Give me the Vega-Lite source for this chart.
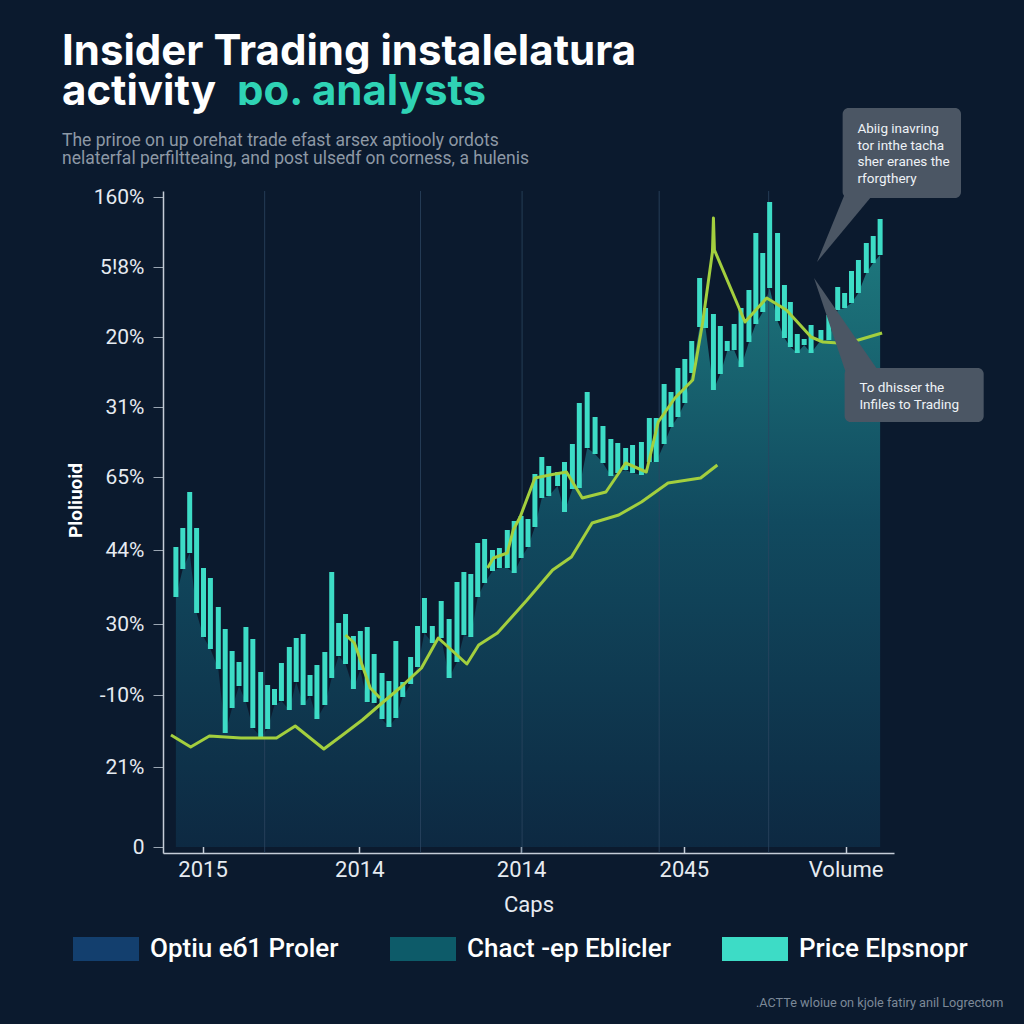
{
  "$schema": "https://vega.github.io/schema/vega-lite/v6.json",
  "width": 731,
  "height": 662,
  "autosize": {"type": "none"},
  "padding": {"left": 163, "top": 191, "right": 130, "bottom": 171},
  "background": "#0b1a2e",
  "config": {"view": {"stroke": null}, "font": "Roboto"},
  "title": {
    "text": ["Insider Trading instalelatura", "activity"],
    "subtitle": ["The priroe on up orehat trade efast arsex aptiooly ordots", "nelaterfal perfiltteaing, and post ulsedf on corness, a hulenis"],
    "anchor": "start",
    "frame": "group",
    "dx": -101,
    "offset": -97,
    "font": "Inter",
    "fontSize": 42,
    "fontWeight": 700,
    "color": "#ffffff",
    "lineHeight": 40,
    "subtitleFont": "Roboto",
    "subtitleFontSize": 17.5,
    "subtitleColor": "#8d98a5",
    "subtitleLineHeight": 18,
    "subtitlePadding": 18
  },
  "datasets": {
    "bars": [
      {"u": 8, "hi": 300, "lo": 250}, {"u": 15, "hi": 319, "lo": 278}, {"u": 22, "hi": 355, "lo": 294},
      {"u": 29, "hi": 319, "lo": 234}, {"u": 36, "hi": 279, "lo": 210}, {"u": 43, "hi": 269, "lo": 198},
      {"u": 51, "hi": 240, "lo": 178}, {"u": 58, "hi": 218, "lo": 114}, {"u": 65, "hi": 196, "lo": 139},
      {"u": 72, "hi": 185, "lo": 161}, {"u": 79, "hi": 220, "lo": 145}, {"u": 86, "hi": 208, "lo": 119},
      {"u": 94, "hi": 175, "lo": 110}, {"u": 101, "hi": 162, "lo": 118}, {"u": 108, "hi": 158, "lo": 142},
      {"u": 115, "hi": 184, "lo": 146}, {"u": 123, "hi": 200, "lo": 137}, {"u": 130, "hi": 209, "lo": 165},
      {"u": 137, "hi": 213, "lo": 142}, {"u": 144, "hi": 172, "lo": 151}, {"u": 151, "hi": 182, "lo": 128},
      {"u": 159, "hi": 195, "lo": 142}, {"u": 166, "hi": 275, "lo": 169}, {"u": 173, "hi": 224, "lo": 191},
      {"u": 180, "hi": 233, "lo": 183}, {"u": 188, "hi": 211, "lo": 158}, {"u": 195, "hi": 216, "lo": 177},
      {"u": 202, "hi": 220, "lo": 145}, {"u": 209, "hi": 193, "lo": 144}, {"u": 217, "hi": 174, "lo": 128},
      {"u": 224, "hi": 166, "lo": 120}, {"u": 231, "hi": 206, "lo": 129}, {"u": 238, "hi": 165, "lo": 150},
      {"u": 246, "hi": 190, "lo": 163}, {"u": 253, "hi": 221, "lo": 180}, {"u": 260, "hi": 249, "lo": 214},
      {"u": 268, "hi": 221, "lo": 204}, {"u": 277, "hi": 246, "lo": 209}, {"u": 285, "hi": 228, "lo": 169},
      {"u": 293, "hi": 265, "lo": 185}, {"u": 300, "hi": 275, "lo": 212}, {"u": 307, "hi": 273, "lo": 210},
      {"u": 314, "hi": 304, "lo": 250}, {"u": 321, "hi": 308, "lo": 264}, {"u": 329, "hi": 297, "lo": 276},
      {"u": 336, "hi": 299, "lo": 279}, {"u": 344, "hi": 317, "lo": 279}, {"u": 351, "hi": 326, "lo": 274},
      {"u": 358, "hi": 331, "lo": 289}, {"u": 365, "hi": 328, "lo": 300}, {"u": 372, "hi": 373, "lo": 320},
      {"u": 379, "hi": 390, "lo": 349}, {"u": 386, "hi": 381, "lo": 351}, {"u": 395, "hi": 375, "lo": 361},
      {"u": 402, "hi": 385, "lo": 335}, {"u": 410, "hi": 403, "lo": 358}, {"u": 417, "hi": 444, "lo": 359},
      {"u": 425, "hi": 455, "lo": 399}, {"u": 433, "hi": 430, "lo": 393}, {"u": 441, "hi": 421, "lo": 384},
      {"u": 449, "hi": 408, "lo": 371}, {"u": 456, "hi": 404, "lo": 374}, {"u": 464, "hi": 399, "lo": 377},
      {"u": 471, "hi": 402, "lo": 374}, {"u": 480, "hi": 405, "lo": 372}, {"u": 488, "hi": 429, "lo": 385},
      {"u": 495, "hi": 429, "lo": 385}, {"u": 503, "hi": 463, "lo": 403}, {"u": 510, "hi": 455, "lo": 420},
      {"u": 517, "hi": 479, "lo": 430}, {"u": 524, "hi": 488, "lo": 444}, {"u": 531, "hi": 506, "lo": 474},
      {"u": 539, "hi": 569, "lo": 520}, {"u": 545, "hi": 539, "lo": 519}, {"u": 553, "hi": 533, "lo": 457},
      {"u": 560, "hi": 521, "lo": 473}, {"u": 567, "hi": 506, "lo": 496}, {"u": 574, "hi": 523, "lo": 497},
      {"u": 581, "hi": 539, "lo": 480}, {"u": 589, "hi": 557, "lo": 505}, {"u": 596, "hi": 614, "lo": 523},
      {"u": 603, "hi": 594, "lo": 535}, {"u": 610, "hi": 645, "lo": 559}, {"u": 618, "hi": 614, "lo": 526},
      {"u": 625, "hi": 562, "lo": 509}, {"u": 631, "hi": 545, "lo": 500}, {"u": 638, "hi": 513, "lo": 494},
      {"u": 645, "hi": 508, "lo": 502}, {"u": 652, "hi": 522, "lo": 494}, {"u": 662, "hi": 517, "lo": 507},
      {"u": 670, "hi": 532, "lo": 507}, {"u": 679, "hi": 560, "lo": 537}, {"u": 686, "hi": 554, "lo": 539},
      {"u": 693, "hi": 576, "lo": 544}, {"u": 700, "hi": 587, "lo": 554}, {"u": 708, "hi": 604, "lo": 574},
      {"u": 715, "hi": 611, "lo": 584}, {"u": 722, "hi": 628, "lo": 592}
    ],
    "lines": [
      {"s": "A", "u": 3, "v": 112}, {"s": "A", "u": 23, "v": 100}, {"s": "A", "u": 42, "v": 111},
      {"s": "A", "u": 74, "v": 109}, {"s": "A", "u": 110, "v": 109}, {"s": "A", "u": 129, "v": 121},
      {"s": "A", "u": 158, "v": 98}, {"s": "A", "u": 177, "v": 112}, {"s": "A", "u": 197, "v": 127},
      {"s": "A", "u": 217, "v": 144}, {"s": "A", "u": 235, "v": 159}, {"s": "A", "u": 257, "v": 179},
      {"s": "A", "u": 274, "v": 209}, {"s": "A", "u": 303, "v": 183}, {"s": "A", "u": 315, "v": 202},
      {"s": "A", "u": 334, "v": 214}, {"s": "A", "u": 364, "v": 247}, {"s": "A", "u": 390, "v": 277},
      {"s": "A", "u": 409, "v": 290}, {"s": "A", "u": 430, "v": 324}, {"s": "A", "u": 457, "v": 332},
      {"s": "A", "u": 480, "v": 345}, {"s": "A", "u": 507, "v": 364}, {"s": "A", "u": 540, "v": 369},
      {"s": "A", "u": 557, "v": 382},
      {"s": "B", "u": 180, "v": 212}, {"s": "B", "u": 189, "v": 204}, {"s": "B", "u": 205, "v": 159},
      {"s": "B", "u": 215, "v": 149},
      {"s": "C", "u": 324, "v": 279}, {"s": "C", "u": 330, "v": 289}, {"s": "C", "u": 344, "v": 294},
      {"s": "C", "u": 350, "v": 317}, {"s": "C", "u": 357, "v": 330}, {"s": "C", "u": 372, "v": 369},
      {"s": "C", "u": 387, "v": 372}, {"s": "C", "u": 404, "v": 375}, {"s": "C", "u": 420, "v": 349},
      {"s": "C", "u": 444, "v": 355}, {"s": "C", "u": 464, "v": 384}, {"s": "C", "u": 485, "v": 375},
      {"s": "C", "u": 497, "v": 425}, {"s": "C", "u": 514, "v": 449}, {"s": "C", "u": 532, "v": 467},
      {"s": "C", "u": 542, "v": 524}, {"s": "C", "u": 552, "v": 595}, {"s": "C", "u": 553, "v": 629},
      {"s": "C", "u": 554, "v": 597}, {"s": "C", "u": 585, "v": 525}, {"s": "C", "u": 607, "v": 549},
      {"s": "C", "u": 627, "v": 537}, {"s": "C", "u": 652, "v": 510}, {"s": "C", "u": 664, "v": 505},
      {"s": "C", "u": 680, "v": 504}, {"s": "C", "u": 700, "v": 507}, {"s": "C", "u": 724, "v": 514}
    ],
    "grid": [{"g": 98}, {"g": 256}, {"g": 359}, {"g": 498}, {"g": 609}],
    "pointers": [
      {"p": 1, "v": 585, "a": 658, "b": 658}, {"p": 1, "v": 655, "a": 687, "b": 717},
      {"p": 2, "v": 569, "a": 655, "b": 655}, {"p": 2, "v": 475, "a": 687, "b": 721}
    ],
    "boxes": [
      {"u1": 684, "u2": 804, "v1": 739, "v2": 649, "tu": 699, "tv": 714, "txt": ["Abiig inavring", "tor inthe tacha", "sher eranes the", "rforgthery"]},
      {"u1": 686, "u2": 827, "v1": 479, "v2": 425, "tu": 701, "tv": 455, "txt": ["To dhisser the", "Infiles to Trading"]}
    ]
  },
  "layer": [
    {
      "data": {"name": "bars"},
      "mark": {
        "type": "area",
        "fill": {"x1": 0, "y1": 0, "x2": 0, "y2": 1, "gradient": "linear", "stops": [
          {"offset": 0, "color": "#1d767c"}, {"offset": 0.45, "color": "#114a5f"}, {"offset": 1, "color": "#0d2942"}
        ]}
      },
      "encoding": {
        "x": {
          "field": "u", "type": "quantitative",
          "scale": {"domain": [0, 731], "nice": false, "zero": false},
          "axis": {
            "values": [35, 194, 358, 523, 687],
            "labelExpr": "datum.value == 35 ? '2015' : datum.value == 194 ? '2014' : datum.value == 358 ? '2014' : datum.value == 523 ? '2045' : 'Volume'",
            "title": "Caps",
            "grid": false,
            "domainColor": "#c5cdd8",
            "domainWidth": 1.5,
            "tickColor": "#c5cdd8",
            "tickSize": -8,
            "tickWidth": 1.5,
            "labelFont": "Roboto",
            "labelFontSize": 22,
            "labelColor": "#e6ebf1",
            "labelPadding": 14,
            "titleFont": "Roboto",
            "titleFontSize": 22,
            "titleFontWeight": "normal",
            "titleColor": "#e6ebf1",
            "titlePadding": 14
          }
        },
        "y": {
          "field": "lo", "type": "quantitative",
          "scale": {"domain": [-6, 656], "nice": false},
          "axis": {
            "values": [0, 80, 152, 223, 297, 370, 440, 510, 580, 650],
            "labelExpr": "datum.value == 0 ? '0' : datum.value == 80 ? '21%' : datum.value == 152 ? '-10%' : datum.value == 223 ? '30%' : datum.value == 297 ? '44%' : datum.value == 370 ? '65%' : datum.value == 440 ? '31%' : datum.value == 510 ? '20%' : datum.value == 580 ? '5!8%' : '160%'",
            "title": "Ploliuoid",
            "grid": false,
            "domainColor": "#c5cdd8",
            "domainWidth": 1.5,
            "tickColor": "#9aa5b2",
            "tickSize": 10,
            "labelFont": "Roboto",
            "labelFontSize": 21,
            "labelColor": "#e6ebf1",
            "labelPadding": 9,
            "titleFont": "Roboto",
            "titleFontSize": 19,
            "titleFontWeight": "bold",
            "titleColor": "#ffffff",
            "titleX": -78,
            "titleY": 309
          }
        }
      }
    },
    {
      "data": {"name": "grid"},
      "mark": {"type": "rule", "color": "#2c4560", "strokeWidth": 1, "opacity": 0.8},
      "encoding": {
        "x": {"field": "g", "type": "quantitative", "scale": {"domain": [0, 731], "nice": false, "zero": false}}
      }
    },
    {
      "data": {"name": "bars"},
      "mark": {"type": "bar", "width": 5},
      "encoding": {
        "x": {"field": "u", "type": "quantitative", "scale": {"domain": [0, 731], "nice": false, "zero": false}},
        "y": {"field": "hi", "type": "quantitative", "scale": {"domain": [-6, 656], "nice": false}},
        "y2": {"field": "lo"},
        "color": {
          "datum": "Price Elpsnopr",
          "type": "nominal",
          "scale": {"domain": ["Optiu eб1 Proler", "Chact -ep Eblicler", "Price Elpsnopr"], "range": ["#133f6e", "#0d5b69", "#3ddcc6"]},
          "legend": {
            "orient": "none",
            "legendX": -91,
            "legendY": 745,
            "direction": "horizontal",
            "title": null,
            "symbolType": "M-1,-1H4.5V1H-1Z",
            "symbolSize": 576,
            "symbolStrokeWidth": 0,
            "symbolOpacity": 1,
            "labelFont": "Roboto",
            "labelFontSize": 26,
            "labelFontWeight": 500,
            "labelColor": "#ffffff",
            "labelOffset": 52,
            "labelLimit": 400,
            "columnPadding": 50
          }
        }
      }
    },
    {
      "data": {"name": "lines"},
      "mark": {"type": "line", "color": "#a3cf3e", "strokeWidth": 3, "strokeJoin": "round"},
      "encoding": {
        "x": {"field": "u", "type": "quantitative", "scale": {"domain": [0, 731], "nice": false, "zero": false}},
        "y": {"field": "v", "type": "quantitative", "scale": {"domain": [-6, 656], "nice": false}},
        "detail": {"field": "s"}
      }
    },
    {
      "data": {"name": "pointers"},
      "mark": {"type": "area", "orient": "horizontal", "color": "#4b5664"},
      "encoding": {
        "y": {"field": "v", "type": "quantitative", "scale": {"domain": [-6, 656], "nice": false}},
        "x": {"field": "a", "type": "quantitative", "scale": {"domain": [0, 731], "nice": false, "zero": false}},
        "x2": {"field": "b"},
        "detail": {"field": "p"}
      }
    },
    {
      "data": {"name": "boxes"},
      "mark": {"type": "rect", "color": "#4b5664", "cornerRadius": 6},
      "encoding": {
        "x": {"field": "u1", "type": "quantitative", "scale": {"domain": [0, 731], "nice": false, "zero": false}},
        "x2": {"field": "u2"},
        "y": {"field": "v1", "type": "quantitative", "scale": {"domain": [-6, 656], "nice": false}},
        "y2": {"field": "v2"}
      }
    },
    {
      "data": {"name": "boxes"},
      "mark": {"type": "text", "align": "left", "baseline": "alphabetic", "font": "Roboto", "fontSize": 13.5, "lineHeight": 16.7, "color": "#eef2f6"},
      "encoding": {
        "x": {"field": "tu", "type": "quantitative", "scale": {"domain": [0, 731], "nice": false, "zero": false}},
        "y": {"field": "tv", "type": "quantitative", "scale": {"domain": [-6, 656], "nice": false}},
        "text": {"field": "txt"}
      }
    },
    {
      "data": {"values": [{}]},
      "mark": {"type": "text", "text": "ɒo. analysts", "align": "left", "baseline": "alphabetic", "font": "Inter", "fontSize": 42, "fontWeight": 700, "color": "#2fd3b5"},
      "encoding": {
        "x": {"datum": 70, "type": "quantitative", "scale": {"domain": [0, 731], "nice": false, "zero": false}},
        "y": {"datum": 742, "type": "quantitative", "scale": {"domain": [-6, 656], "nice": false}}
      }
    },
    {
      "data": {"values": [{}]},
      "mark": {"type": "text", "text": ".ACTTe wloiue on kjole fatiry anil Logrectom", "align": "right", "baseline": "alphabetic", "font": "Roboto", "fontSize": 12.7, "color": "#7c8998"},
      "encoding": {
        "x": {"datum": 847, "type": "quantitative", "scale": {"domain": [0, 731], "nice": false, "zero": false}},
        "y": {"datum": -160, "type": "quantitative", "scale": {"domain": [-6, 656], "nice": false}}
      }
    }
  ]
}
